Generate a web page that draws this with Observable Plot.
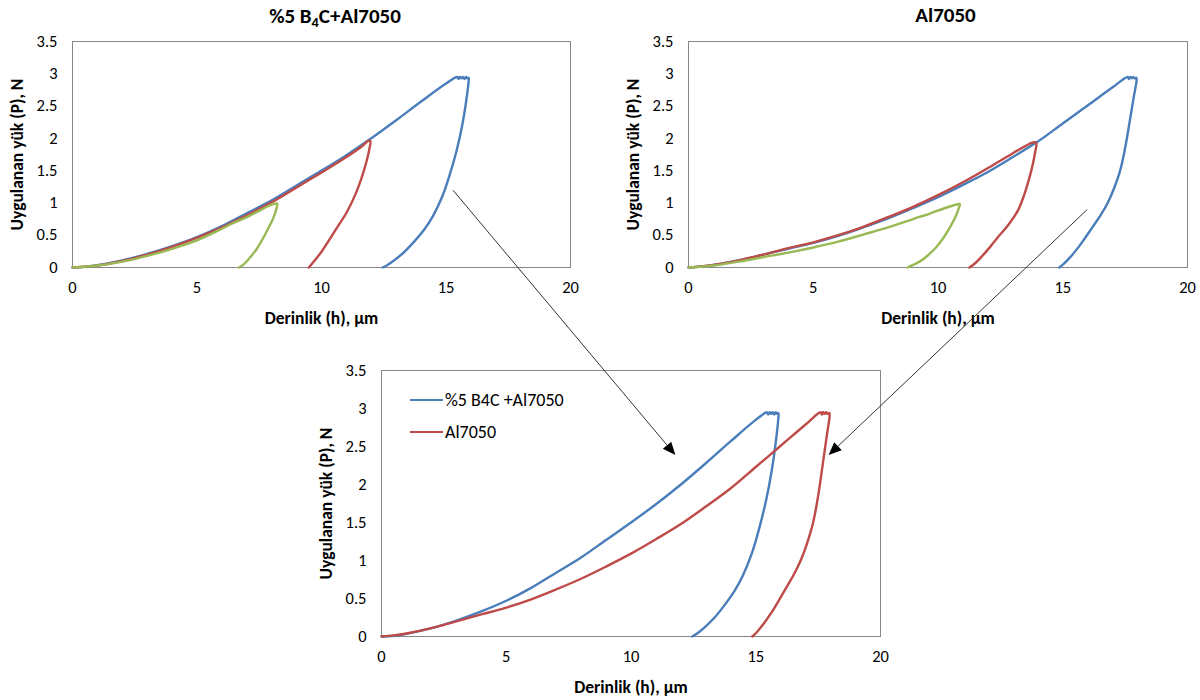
<!DOCTYPE html>
<html>
<head>
<meta charset="utf-8">
<script src="https://cdn.jsdelivr.net/npm/d3@7"></script>
<script src="https://cdn.jsdelivr.net/npm/@observablehq/plot@0.6"></script>
<style>
  body { margin: 0; background: #fff; font-family: Carlito, Lato, "Noto Sans", sans-serif; }
  #root { position: relative; width: 1200px; height: 700px; overflow: hidden; }
  .panel { position: absolute; }
  .title { position: absolute; font-weight: bold; font-size: 21px; transform: translate(-50%, -50%); white-space: nowrap; color: #000; }
  .title sub { font-size: 0.68em; vertical-align: -0.3em; line-height: 0; }
  .legend { position: absolute; font-size: 18px; color: #000; }
  .legend .row { display: flex; align-items: center; height: 32px; }
  .legend .swatch { width: 33px; height: 0; border-top: 2.5px solid; margin-right: 2px; }
  g[aria-label="x-axis label"] text, g[aria-label="y-axis label"] text { font-weight: bold; font-size: 17.5px; }
</style>
</head>
<body>
<div id="root"></div>
<script>
// ---------- data (h in µm, P in N) ----------
const xTicks = [0, 5, 10, 15, 20];
const yTicks = [0, 0.5, 1, 1.5, 2, 2.5, 3, 3.5];
const xLabel = "Derinlik (h), µm";
const yLabel = "Uygulanan yük (P), N";
const titleA = "%5 B<sub>4</sub>C+Al7050";
const titleB = "Al7050";
const legendLabels = ["%5 B4C +Al7050", "Al7050"];

// %5 B4C + Al7050, 3 N
const b4c3N = [[0,0],[0.5,0.01],[1,0.035],[2,0.11],[3,0.21],[4,0.33],[5,0.47],[6,0.64],[7,0.84],[8,1.04],[9,1.27],[10,1.5],[11,1.74],[12,2.0],[13,2.28],[14,2.57],[15,2.85],[15.45,2.95],[15.5,2.92],[15.56,2.95],[15.62,2.93],[15.68,2.95],[15.74,2.92],[15.8,2.95],[15.86,2.93],[15.91,2.94],
  [15.9,2.85],[15.8,2.55],[15.65,2.2],[15.42,1.8],[15.12,1.4],[14.85,1.1],[14.48,0.8],[14.15,0.6],[13.72,0.4],[13.35,0.25],[12.95,0.12],[12.65,0.04],[12.45,0]];
// %5 B4C + Al7050, 2 N
const b4c2N = [[0,0],[1,0.03],[2,0.1],[3,0.2],[4,0.32],[5,0.46],[6,0.62],[7,0.81],[8,1.01],[9,1.24],[10,1.47],[11,1.71],[11.6,1.87],[11.88,1.96],[11.96,1.96],
  [11.93,1.85],[11.82,1.66],[11.62,1.4],[11.37,1.14],[11.02,0.86],[10.63,0.62],[10.3,0.42],[10.03,0.26],[9.75,0.12],[9.6,0.05],[9.49,0]];
// %5 B4C + Al7050, 1 N
const b4c1N = [[0,0],[1,0.03],[2,0.09],[3,0.18],[4,0.29],[5,0.42],[6,0.6],[6.35,0.67],[7,0.78],[7.6,0.9],[8.05,0.98],[8.22,0.99],
  [8.2,0.93],[8.08,0.78],[7.88,0.62],[7.62,0.43],[7.35,0.26],[7.05,0.12],[6.85,0.04],[6.68,0]];
// Al7050, 3 N
const al3N = [[0,0],[0.5,0.015],[1,0.04],[2,0.11],[3,0.2],[4,0.29],[5,0.38],[6,0.49],[7,0.62],[8,0.76],[9,0.92],[10,1.09],[11,1.28],[12,1.48],[13,1.71],[14,1.95],[15,2.23],[16,2.51],[17,2.79],[17.6,2.95],[17.65,2.92],[17.7,2.95],[17.76,2.93],[17.82,2.95],[17.88,2.93],[17.95,2.94],
  [17.96,2.9],[17.85,2.65],[17.7,2.3],[17.5,1.85],[17.3,1.5],[17.05,1.22],[16.8,1.0],[16.5,0.8],[16.2,0.63],[15.9,0.46],[15.6,0.3],[15.3,0.16],[15.05,0.06],[14.86,0]];
// Al7050, 2 N
const al2N = [[0,0],[1,0.04],[2,0.11],[3,0.2],[4,0.3],[5,0.39],[6,0.5],[7,0.63],[8,0.78],[9,0.94],[10,1.12],[11,1.32],[12,1.54],[13,1.77],[13.5,1.88],[13.75,1.93],[13.85,1.94],[13.94,1.93],
  [13.9,1.8],[13.8,1.6],[13.67,1.4],[13.45,1.12],[13.2,0.88],[12.8,0.65],[12.4,0.47],[12.05,0.3],[11.73,0.16],[11.5,0.07],[11.26,0]];
// Al7050, 1 N
const al1N = [[0,0],[1,0.03],[2,0.09],[3,0.16],[4,0.23],[5,0.31],[6,0.4],[7,0.51],[8,0.62],[9,0.75],[9.7,0.84],[10.2,0.91],[10.6,0.96],[10.79,0.98],[10.88,0.98],
  [10.85,0.94],[10.72,0.8],[10.48,0.62],[10.22,0.46],[9.92,0.31],[9.6,0.19],[9.3,0.1],[9.0,0.04],[8.78,0]];

// arrow anchors in data units: start in a top panel, end in the bottom panel
const arrowA = {from: [15.3, 1.19], to: [11.8, 2.38]};
const arrowB = {from: [16.0, 0.89], to: [17.94, 2.38]};

// ---------- style ----------
const BLUE = "#4A7EBB", RED = "#BE4B48", GREEN = "#98B954";
const root = document.getElementById("root");

function panel(series, opts) {
  const p = Plot.plot({
    width: opts.width, height: opts.height,
    marginLeft: opts.ml, marginRight: opts.mr, marginTop: opts.mt, marginBottom: opts.mb,
    style: {fontFamily: "Carlito, Lato, 'Noto Sans', sans-serif", fontSize: "16.5px", color: "#000", background: "transparent", overflow: "visible"},
    x: {domain: [0, 20], ticks: xTicks, tickSize: 0, tickPadding: 14, tickFormat: d => String(d),
        label: xLabel, labelAnchor: "center", labelOffset: opts.xlo, labelArrow: "none"},
    y: {domain: [0, 3.5], ticks: yTicks, tickSize: 0, tickPadding: 15, tickFormat: d => String(d),
        label: yLabel, labelAnchor: "center", labelOffset: opts.ylo, labelArrow: "none"},
    marks: [
      Plot.frame({stroke: "#868686", strokeWidth: 1}),
      ...series.map(s => Plot.line(s.data, {x: d => d[0], y: d => d[1], stroke: s.color, strokeWidth: 2.4, strokeLinejoin: "round", curve: "catmull-rom"}))
    ]
  });
  p.classList.add("panel");
  p.style.left = opts.left + "px";
  p.style.top = opts.top + "px";
  root.appendChild(p);
  p._off = [opts.left, opts.top];
  return p;
}

const pA = panel([{data: b4c3N, color: BLUE}, {data: b4c2N, color: RED}, {data: b4c1N, color: GREEN}],
  {left: 0, top: 0, width: 600, height: 330, ml: 72, mr: 30, mt: 41, mb: 63, xlo: 56, ylo: 62});
const pB = panel([{data: al3N, color: BLUE}, {data: al2N, color: RED}, {data: al1N, color: GREEN}],
  {left: 600, top: 0, width: 600, height: 330, ml: 88, mr: 13, mt: 41, mb: 63, xlo: 56, ylo: 62});
const pC = panel([{data: b4c3N, color: BLUE}, {data: al3N, color: RED}],
  {left: 300, top: 330, width: 600, height: 370, ml: 81, mr: 20, mt: 40, mb: 64, xlo: 56, ylo: 62});

// titles
function addTitle(html, cx, cy) {
  const d = document.createElement("div");
  d.className = "title"; d.innerHTML = html;
  d.style.left = cx + "px"; d.style.top = cy + "px";
  root.appendChild(d);
}
function frameCenterX(p) { const x = p.scale("x"); return p._off[0] + (x.apply(x.domain[0]) + x.apply(x.domain[1])) / 2; }
addTitle(titleA, frameCenterX(pA) + 14, 16);
addTitle(titleB, frameCenterX(pB) + 8, 15);

// legend (inside bottom panel)
const lg = document.createElement("div");
lg.className = "legend";
lg.style.left = (pC._off[0] + pC.scale("x").apply(0) + 29) + "px";
lg.style.top = (pC._off[1] + pC.scale("y").apply(3.5) + 14) + "px";
[[legendLabels[0], BLUE], [legendLabels[1], RED]].forEach(([t, c]) => {
  const r = document.createElement("div"); r.className = "row";
  const s = document.createElement("div"); s.className = "swatch"; s.style.borderColor = c;
  const l = document.createElement("span"); l.textContent = t;
  r.appendChild(s); r.appendChild(l); lg.appendChild(r);
});
root.appendChild(lg);

// arrows (positions from the panels' scales)
const ov = d3.select(root).append("svg").attr("width", 1200).attr("height", 700)
  .style("position", "absolute").style("left", 0).style("top", 0).style("pointer-events", "none");
function pix(p, [h, P]) { return [p._off[0] + p.scale("x").apply(h), p._off[1] + p.scale("y").apply(P)]; }
function arrow(p0, p1) {
  const [x0, y0] = p0, [x1, y1] = p1;
  const dx = x1 - x0, dy = y1 - y0, L = Math.hypot(dx, dy);
  const ux = dx / L, uy = dy / L, hl = 13, hw = 5.5;
  const bx = x1 - ux * hl, by = y1 - uy * hl;
  ov.append("line").attr("x1", x0).attr("y1", y0).attr("x2", bx).attr("y2", by)
    .attr("stroke", "#333").attr("stroke-width", 1);
  ov.append("polygon").attr("points", [[x1, y1], [bx - uy * hw, by + ux * hw], [bx + uy * hw, by - ux * hw]].map(q => q.join(",")).join(" "))
    .attr("fill", "#000");
}
arrow(pix(pA, arrowA.from), pix(pC, arrowA.to));
arrow(pix(pB, arrowB.from), pix(pC, arrowB.to));
</script>
</body>
</html>
